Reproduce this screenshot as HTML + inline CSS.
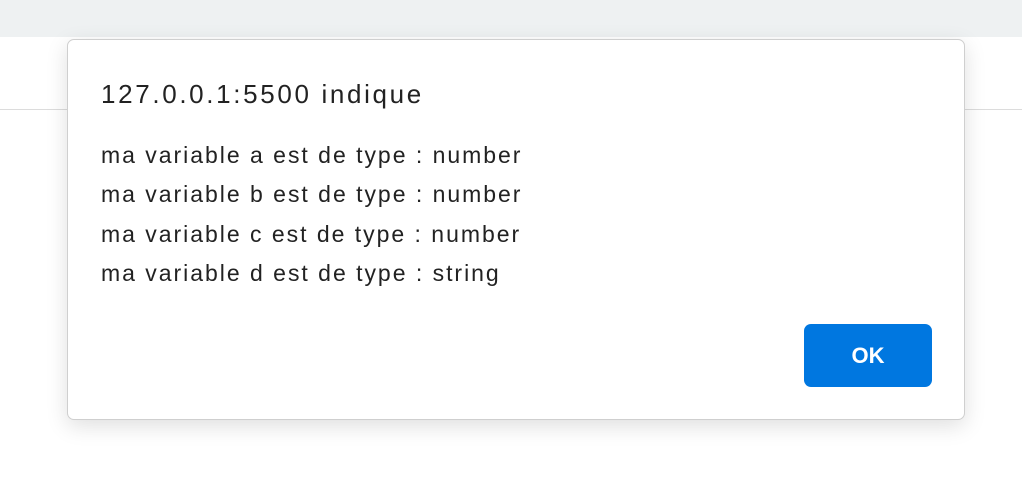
<!DOCTYPE html>
<html><head><style>
html,body{margin:0;padding:0;width:1022px;height:484px;overflow:hidden;background:#fff;font-family:"Liberation Sans",sans-serif;}
.top{position:absolute;left:0;top:0;width:1022px;height:37px;background:#eef1f2;}
.line{position:absolute;left:0;top:109px;width:1022px;height:1px;background:#dcdcdc;}
.dlg{position:absolute;left:67px;top:39px;width:896px;height:379px;background:#fff;border:1px solid #cfcfcf;border-radius:7px;box-shadow:0 6px 22px rgba(0,0,0,0.13);}
.t{position:absolute;left:33px;top:39px;font-size:26px;letter-spacing:2.65px;color:#222;white-space:nowrap;}
.b{position:absolute;left:33px;font-size:23px;letter-spacing:1.98px;color:#222;white-space:nowrap;}
.ok{position:absolute;left:736px;top:284px;width:128px;height:63px;background:#0077e0;border-radius:7px;color:#fff;font-weight:bold;font-size:22px;text-align:center;line-height:63px;}
</style></head><body>
<div class="top"></div><div class="line"></div>
<div class="dlg">
<div class="t">127.0.0.1:5500 indique</div>
<div class="b" style="top:102px">ma variable a est de type : number</div>
<div class="b" style="top:141px">ma variable b est de type : number</div>
<div class="b" style="top:181px">ma variable c est de type : number</div>
<div class="b" style="top:220px">ma variable d est de type : string</div>
<div class="ok">OK</div>
</div>
</body></html>
